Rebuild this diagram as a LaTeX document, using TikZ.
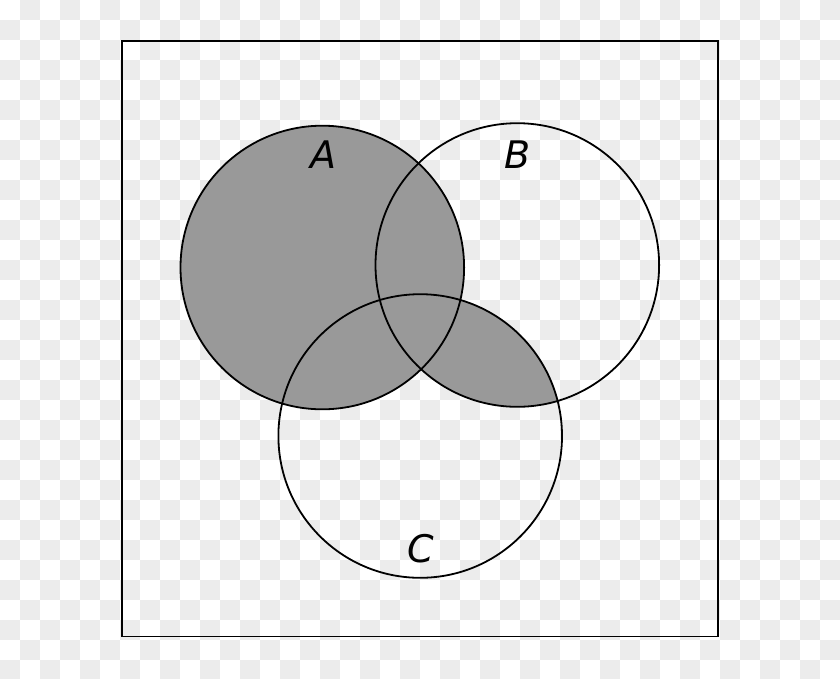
\documentclass[tikz,border=0pt]{standalone}
\usepackage{fontspec}
\newfontfamily\labfont{DejaVu Sans}
\definecolor{checkgray}{HTML}{ECECEC}
\definecolor{vennfill}{HTML}{999999}
\begin{document}
\begin{tikzpicture}[x=1pt,y=-1pt,
  venn/.style={draw=black,line width=1.8pt},
  setlabel/.style={inner sep=0pt,font=\labfont\itshape\fontsize{38}{38}\selectfont}]
\useasboundingbox (0,0) rectangle (840,678);
% transparency checkerboard background
\foreach \j in {0,2,...,32}{
  \foreach \i in {1,3,...,41}{
    \fill[checkgray] (\i*20,\j*20) rectangle ++(20,20);
  }
}
\foreach \j in {1,3,...,33}{
  \foreach \i in {0,2,...,40}{
    \fill[checkgray] (\i*20,\j*20) rectangle ++(20,20);
  }
}
\coordinate (cA) at (322.3,267.5);
\coordinate (cB) at (517.3,265);
\coordinate (cC) at (420.2,436);
\def\R{141.8}
% shading: A union (B intersect C)
\fill[vennfill] (cA) circle (\R);
\begin{scope}
  \clip (cB) circle (\R);
  \fill[vennfill] (cC) circle (\R);
\end{scope}
% outlines
\draw[line width=1.8pt] (122,41) rectangle (718,636.5);
\draw[venn] (cA) circle (\R);
\draw[venn] (cB) circle (\R);
\draw[venn] (cC) circle (\R);
% labels
\node[setlabel] (lA) at (323,155) {A};
\node[setlabel] (lB) at (518,155) {B};
\node[setlabel] (lC) at (421,549) {C};
\end{tikzpicture}
\end{document}
